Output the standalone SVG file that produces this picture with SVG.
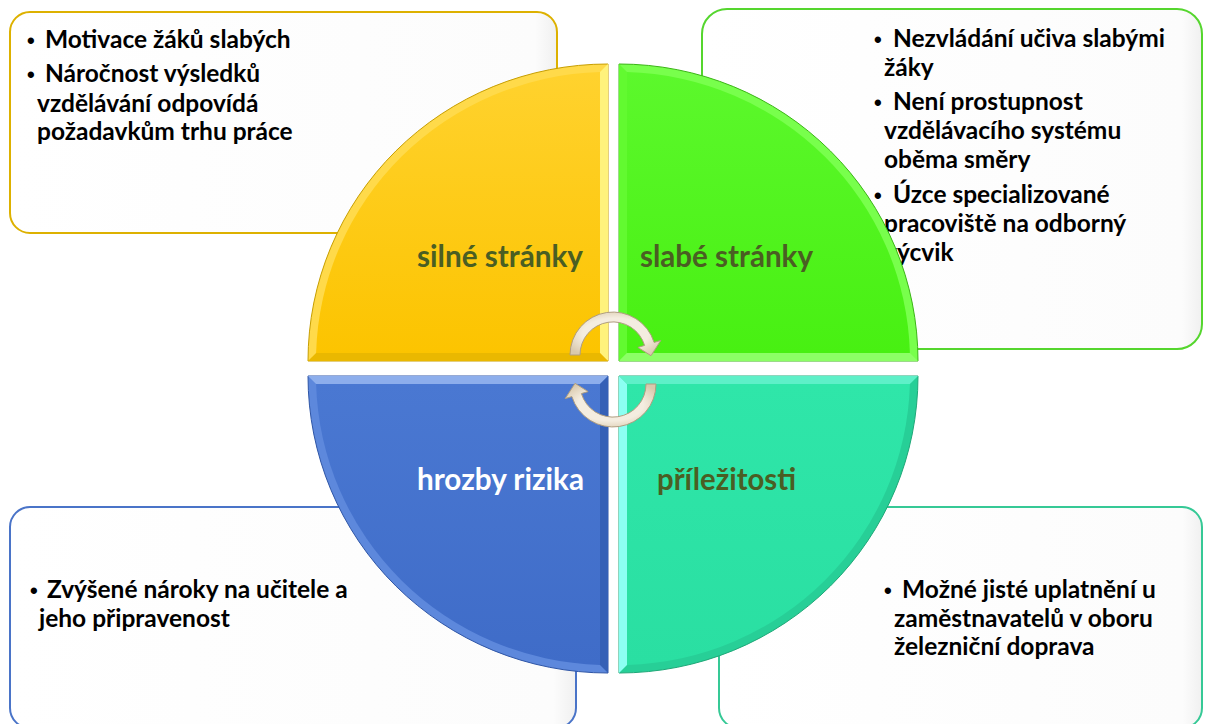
<svg xmlns="http://www.w3.org/2000/svg" width="1205" height="724" viewBox="0 0 1205 724">
<defs>
<style>
.box{stroke-width:2}
.bt{font-family:Lato,"Liberation Sans",sans-serif;font-weight:bold;font-size:24.5px;fill:#000}
.bul{font-family:"Liberation Sans",sans-serif;font-weight:bold;font-size:22px;fill:#000}
.lbl{font-family:Lato,"Liberation Sans",sans-serif;font-weight:bold;font-size:31px}
.dk{fill:#4A5E23}
.wh{fill:#FFFFFF}
.arr{fill:url(#arrG);stroke:#B09E80;stroke-width:1}
</style>
<linearGradient id="boxG" x1="0" y1="0" x2="1" y2="0">
<stop offset="0" stop-color="#FFFFFF"/><stop offset="0.96" stop-color="#FCFCFC"/><stop offset="1" stop-color="#F0F0F0"/>
</linearGradient>
<linearGradient id="yelG" x1="0" y1="0" x2="0" y2="1">
<stop offset="0" stop-color="#FFD22E"/><stop offset="1" stop-color="#FCC400"/>
</linearGradient>
<linearGradient id="grnG" x1="0" y1="0" x2="0" y2="1">
<stop offset="0" stop-color="#5CF82C"/><stop offset="1" stop-color="#48F012"/>
</linearGradient>
<linearGradient id="bluG" x1="0" y1="0" x2="0" y2="1">
<stop offset="0" stop-color="#4A78D2"/><stop offset="1" stop-color="#3F6CC8"/>
</linearGradient>
<linearGradient id="tealG" x1="0" y1="0" x2="0" y2="1">
<stop offset="0" stop-color="#2FE6A9"/><stop offset="1" stop-color="#2ADFA2"/>
</linearGradient>
<radialGradient id="arrG" cx="0.5" cy="0.5" r="0.6">
<stop offset="0.6" stop-color="#F4EDE0"/><stop offset="1" stop-color="#D9C9AD"/>
</radialGradient>
</defs>

<!-- text boxes -->
<g id="box-silne">
<rect class="box" x="10" y="12" width="547" height="221" rx="20" fill="url(#boxG)" stroke="#DDB100"/>
<text class="bul" x="27" y="48">•</text><text class="bt" x="45" y="48">Motivace žáků slabých</text>
<text class="bul" x="27" y="82">•</text><text class="bt" x="45" y="82">Náročnost výsledků</text>
<text class="bt" x="37" y="112">vzdělávání odpovídá</text>
<text class="bt" x="37" y="140">požadavkům trhu práce</text>
</g>
<g id="box-slabe">
<rect class="box" x="702" y="9" width="500" height="340" rx="25" fill="url(#boxG)" stroke="#55D62E"/>
<text class="bul" x="874" y="47">•</text><text class="bt" x="893" y="47">Nezvládání učiva slabými</text>
<text class="bt" x="884" y="76">žáky</text>
<text class="bul" x="874" y="110">•</text><text class="bt" x="893" y="110">Není prostupnost</text>
<text class="bt" x="884" y="139">vzdělávacího systému</text>
<text class="bt" x="884" y="168">oběma směry</text>
<text class="bul" x="874" y="203">•</text><text class="bt" x="893" y="203">Úzce specializované</text>
<text class="bt" x="884" y="232">pracoviště na odborný</text>
<text class="bt" x="884" y="261">výcvik</text>
</g>
<g id="box-hrozby">
<rect class="box" x="10" y="507" width="566" height="221" rx="20" fill="url(#boxG)" stroke="#4A74C8"/>
<text class="bul" x="30" y="598">•</text><text class="bt" x="47" y="598">Zvýšené nároky na učitele a</text>
<text class="bt" x="39" y="627">jeho připravenost</text>
</g>
<g id="box-prilezitosti">
<rect class="box" x="719" y="507" width="483" height="221" rx="20" fill="url(#boxG)" stroke="#36C996"/>
<text class="bul" x="884" y="598">•</text><text class="bt" x="902" y="598">Možné jisté uplatnění u</text>
<text class="bt" x="894" y="627">zaměstnavatelů v oboru</text>
<text class="bt" x="894" y="655">železniční doprava</text>
</g>

<!-- quadrants -->
<g id="q-silne">
<path d="M608,361 L308,361 A300 297 0 0 1 608,64 Z" fill="#FFDA4A" stroke="#C79E00" stroke-width="1"/>
<polygon points="600,72.1 608,64 608,361 600,353" fill="#FFF27C"/>
<polygon points="316.1,353 308,361 608,361 600,353" fill="#EAB800"/>
<path d="M600,353 L316.1,353 A292 289 0 0 1 600,72.1 Z" fill="url(#yelG)"/>
<text class="lbl dk" x="417" y="267" textLength="166" lengthAdjust="spacingAndGlyphs">silné stránky</text>
</g>
<g id="q-slabe">
<path d="M619,361 L619,64 A299 297 0 0 1 918,361 Z" fill="#78FF4C" stroke="#3BB516" stroke-width="1"/>
<polygon points="619,64 627,72.1 627,353 619,361" fill="#62FA30"/>
<polygon points="619,361 627,353 909.9,353 918,361" fill="#8CFF66"/>
<path d="M627,353 L627,72.1 A291 289 0 0 1 909.9,353 Z" fill="url(#grnG)"/>
<text class="lbl dk" x="640" y="267" textLength="173" lengthAdjust="spacingAndGlyphs">slabé stránky</text>
</g>
<g id="q-hrozby">
<path d="M608,376 L308,376 A300 297 0 0 0 608,673 Z" fill="#5D88DC" stroke="#2E55A6" stroke-width="1"/>
<polygon points="308,376 608,376 600,384 316.1,384" fill="#8DAEEC"/>
<polygon points="608,376 608,673 600,664.9 600,384" fill="#3560B6"/>
<path d="M600,384 L316.1,384 A292 289 0 0 0 600,664.9 Z" fill="url(#bluG)"/>
<text class="lbl wh" x="417" y="490" textLength="167" lengthAdjust="spacingAndGlyphs">hrozby rizika</text>
</g>
<g id="q-prilezitosti">
<path d="M619,376 L918,376 A299 297 0 0 1 619,673 Z" fill="#27CF97" stroke="#1FA878" stroke-width="1"/>
<polygon points="619,376 918,376 909.9,384 627,384" fill="#5EF0C8"/>
<polygon points="619,376 627,384 627,664.9 619,673" fill="#8CFFF2"/>
<path d="M627,384 L909.9,384 A291 289 0 0 1 627,664.9 Z" fill="url(#tealG)"/>
<text class="lbl dk" x="657" y="490" textLength="139" lengthAdjust="spacingAndGlyphs">příležitosti</text>
</g>

<!-- connectors: cycle arrows -->
<g id="connectors">
<path class="arr" d="M570,355 A43 43 0 0 1 654.1,342.4 L660.8,340.4 L651,355.7 L637.9,347.4 L644.6,345.4 A33 33 0 0 0 580,355 Z"/>
<path class="arr" transform="rotate(180 613 369.5)" d="M570,355 A43 43 0 0 1 654.1,342.4 L660.8,340.4 L651,355.7 L637.9,347.4 L644.6,345.4 A33 33 0 0 0 580,355 Z"/>
</g>
</svg>
